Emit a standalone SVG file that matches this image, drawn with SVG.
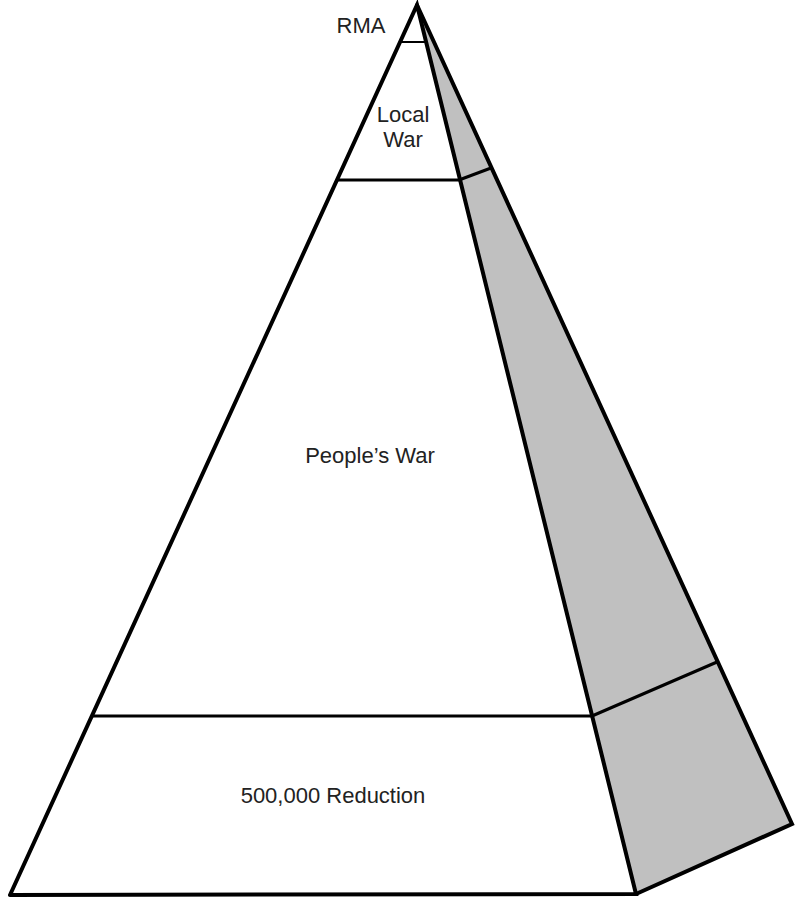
<svg xmlns="http://www.w3.org/2000/svg" width="796" height="902" viewBox="0 0 796 902">
<style>
.edge{stroke:#000;stroke-width:4;fill:none;stroke-linejoin:miter;stroke-linecap:round}
.div{stroke:#000;stroke-width:3;fill:none}
.thin{stroke:#000;stroke-width:2;fill:none}
.lbl{font-family:"Liberation Sans",Arial,sans-serif;font-size:22px;fill:#222;text-anchor:middle}
</style>
<rect width="796" height="902" fill="#fff"/>
<g id="side">
<polygon points="417,5 792,824 636,894" fill="#c0c0c0"/>
</g>
<g id="front">
<polygon points="417,5 10,895 636,894" fill="#fff"/>
</g>
<g id="connectors">
<line class="thin" x1="400" y1="42" x2="426" y2="42"/>
<line class="div" x1="337" y1="180" x2="460" y2="180"/>
<line class="div" x1="92" y1="716" x2="592" y2="716"/>
<line class="div" x1="459" y1="180" x2="491" y2="168"/>
<line class="div" x1="592" y1="716" x2="717" y2="662"/>
<polyline class="edge" points="10,895 417,5 636,894 10,895"/>
<polyline class="edge" points="417,5 792,824 636,894"/>
</g>
<g id="rma"><text class="lbl" x="361" y="33">RMA</text></g>
<g id="local-war"><text class="lbl" x="403" y="122">Local</text><text class="lbl" x="403" y="147">War</text></g>
<g id="peoples-war"><text class="lbl" x="370" y="463">People’s War</text></g>
<g id="reduction"><text class="lbl" x="333" y="803">500,000 Reduction</text></g>
</svg>
